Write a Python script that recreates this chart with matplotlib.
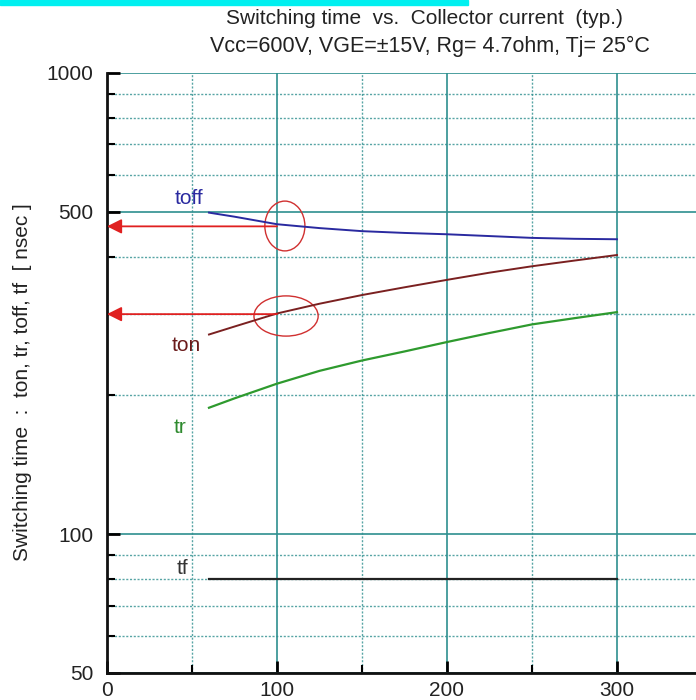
import matplotlib
matplotlib.use("Agg")
import matplotlib.pyplot as plt
from matplotlib.patches import Ellipse, Rectangle
from matplotlib.ticker import FixedLocator, NullFormatter, FixedFormatter

plt.rcParams['font.family'] = ['Liberation Sans', 'DejaVu Sans']

# Data (collector current in A, switching time in ns)
ic = [60, 75, 100, 125, 150, 175, 200, 225, 250, 275, 300]
toff = [498, 488, 470, 461, 454, 450, 447, 443, 439, 437, 436]
ton = [271, 282, 301, 316, 330, 343, 356, 369, 381, 392, 403]
tr = [188, 197, 212, 226, 238, 249, 261, 273, 285, 294, 303]
tf = [80, 80, 80, 80, 80, 80, 80, 80, 80, 80, 80]

xticks = [0, 100, 200, 300]
xminor = [50, 150, 250]
yticks = [50, 100, 500, 1000]
yminor = [60, 70, 80, 90, 200, 300, 400, 600, 700, 800, 900]
arrow_levels = [465, 300]

fig = plt.figure(figsize=(6.96, 7.00), dpi=100)
ax = fig.add_axes([107/696, 1-673/700, 589/696, 600/700])
ax.set_yscale('log')
ax.set_xlim(0, 346.5)
ax.set_ylim(50, 1000)

grid_c = '#2e8f8f'
ax.xaxis.set_major_locator(FixedLocator(xticks))
ax.xaxis.set_minor_locator(FixedLocator(xminor))
ax.yaxis.set_major_locator(FixedLocator(yticks))
ax.yaxis.set_minor_locator(FixedLocator(yminor))
ax.yaxis.set_major_formatter(FixedFormatter([str(v) for v in yticks]))
ax.yaxis.set_minor_formatter(NullFormatter())
ax.xaxis.set_major_formatter(FixedFormatter([str(v) for v in xticks]))

ax.grid(True, which='major', color=grid_c, lw=1.2, ls='-')
ax.grid(True, which='minor', color=grid_c, lw=1.0, ls=(0, (1.5, 1.2)), alpha=0.8)
ax.set_axisbelow(True)

ax.tick_params(which='both', direction='in', color='black', labelsize=15, labelcolor='#222222')
ax.tick_params(which='major', length=9, width=2)
ax.tick_params(which='minor', length=6, width=1.5)
ax.tick_params(axis='y', pad=10)
ax.tick_params(axis='x', pad=6)

for s in ['top', 'right']:
    ax.spines[s].set_visible(False)
for s in ['left', 'bottom']:
    ax.spines[s].set_linewidth(2)
    ax.spines[s].set_color('#111111')

ax.plot(ic, toff, color='#2a2aa0', lw=1.4)
ax.plot(ic, ton, color='#7a2020', lw=1.4)
ax.plot(ic, tr, color='#2e9a2e', lw=1.6)
ax.plot(ic, tf, color='#222222', lw=1.6)

ax.text(40, 520, 'toff', color='#2a2aa0', fontsize=15)
ax.text(38, 250, 'ton', color='#6a1a1a', fontsize=15)
ax.text(39, 166, 'tr', color='#2e8a2e', fontsize=15)
ax.text(41, 82, 'tf', color='#333333', fontsize=15)

for lv in arrow_levels:
    ax.annotate('', xy=(0, lv), xytext=(100, lv),
                arrowprops=dict(arrowstyle='-|>', color='#e02020', lw=1.3,
                                mutation_scale=22, shrinkA=0, shrinkB=0))

ax.add_patch(Ellipse((0.302, 0.745), 0.068, 0.083, transform=ax.transAxes,
                     fill=False, ec='#d03030', lw=1.0))
ax.add_patch(Ellipse((0.304, 0.595), 0.109, 0.067, transform=ax.transAxes,
                     fill=False, ec='#d03030', lw=1.0))

ax.set_ylabel('Switching time  :  ton, tr, toff, tf  [ nsec ]', fontsize=15,
              color='#222222')
ax.yaxis.set_label_coords(-0.128, 0.485)

fig.text(424/696, 1-19/700, 'Switching time  vs.  Collector current  (typ.)',
         ha='center', va='center', fontsize=15, color='#222222')
fig.text(430/696, 1-46/700, 'Vcc=600V, VGE=±15V, Rg= 4.7ohm, Tj= 25°C',
         ha='center', va='center', fontsize=15.5, color='#222222')

fig.patches.append(Rectangle((0, 1-5/700), 468/696, 5/700, transform=fig.transFigure,
                             color='#00f0f0', zorder=0))

fig.savefig('out.png', dpi=100)
